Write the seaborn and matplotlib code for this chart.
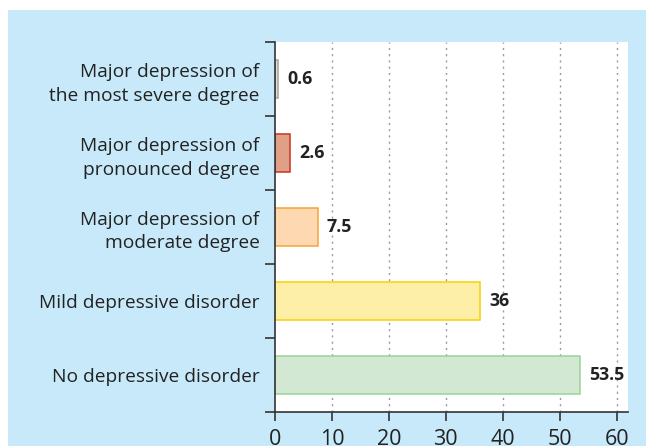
import matplotlib
matplotlib.use("Agg")
import matplotlib.pyplot as plt
from matplotlib.patches import Rectangle
from matplotlib.ticker import FixedLocator, NullFormatter
import seaborn as sns
import pandas as pd

categories = [
    "Major depression of\nthe most severe degree",
    "Major depression of\npronounced degree",
    "Major depression of\nmoderate degree",
    "Mild depressive disorder",
    "No depressive disorder",
]
values = [0.6, 2.6, 7.5, 36, 53.5]
value_labels = ["0.6", "2.6", "7.5", "36", "53.5"]
fill_colors = ["#e4ded6", "#e0a088", "#fdd8b0", "#fdeea8", "#d3e8d3"]
edge_colors = ["#aaa196", "#cc3322", "#f5a535", "#f8d200", "#98d498"]
x_ticks = [0, 10, 20, 30, 40, 50, 60]

sns.set_theme(style="white")
plt.rcParams["font.family"] = ["Open Sans", "DejaVu Sans"]

fig = plt.figure(figsize=(6.46, 4.46), dpi=100)
fig.patch.set_facecolor("white")
fig.patches.append(Rectangle((8 / 646, 0), 1, (446 - 10) / 446,
                             transform=fig.transFigure, facecolor="#c7e9f9",
                             edgecolor="none", zorder=-10))

ax = fig.add_axes([275 / 646, 34.3 / 446, (628 - 275) / 646, (411.7 - 42) / 446])
ax.set_facecolor("white")

df = pd.DataFrame({"cat": categories, "val": values})
sns.barplot(data=df, x="val", y="cat", hue="cat", palette=fill_colors,
            order=categories, hue_order=categories, width=0.52,
            legend=False, ax=ax, zorder=3, saturation=1)
for p, ec in zip(ax.patches, edge_colors):
    p.set_edgecolor(ec)
    p.set_linewidth(1.1)

for cont, lab in zip(ax.containers, value_labels):
    ax.bar_label(cont, labels=[lab], padding=6.5, fontsize=12.8,
                 fontweight="bold", color="#222222")

ax.set_xlim(0, 62)
ax.set_ylim(4.5, -0.5)
ax.set_xlabel("")
ax.set_ylabel("")

ax.xaxis.set_major_locator(FixedLocator(x_ticks))
ax.set_xticklabels([str(t) for t in x_ticks])
ax.tick_params(axis="x", direction="out", length=6.5, width=1.2, color="#333333",
               labelsize=15.5, pad=6, labelcolor="#222222", bottom=True)

ax.yaxis.set_major_locator(FixedLocator([-0.5, 0.5, 1.5, 2.5, 3.5, 4.5]))
ax.yaxis.set_major_formatter(NullFormatter())
ax.yaxis.set_minor_locator(FixedLocator([0, 1, 2, 3, 4]))
ax.set_yticklabels(categories, minor=True)
ax.tick_params(axis="y", which="major", direction="out", length=7, width=1.2,
               color="#333333", left=True)
ax.tick_params(axis="y", which="minor", length=0, pad=11, labelsize=13.8,
               labelcolor="#222222", left=True)
for t in ax.get_yticklabels(minor=True):
    t.set_linespacing(1.4)
    t.set_horizontalalignment("right")

for x in x_ticks[1:]:
    ax.axvline(x, color="#9a9a9a", linestyle=(0, (1.5, 3)), linewidth=1.0, zorder=1)

for s in ["top", "right"]:
    ax.spines[s].set_visible(False)
for s in ["left", "bottom"]:
    ax.spines[s].set_visible(True)
    ax.spines[s].set_color("#333333")
    ax.spines[s].set_linewidth(1.2)
ax.spines["left"].set_zorder(5)

fig.savefig("out.png", dpi=100)
